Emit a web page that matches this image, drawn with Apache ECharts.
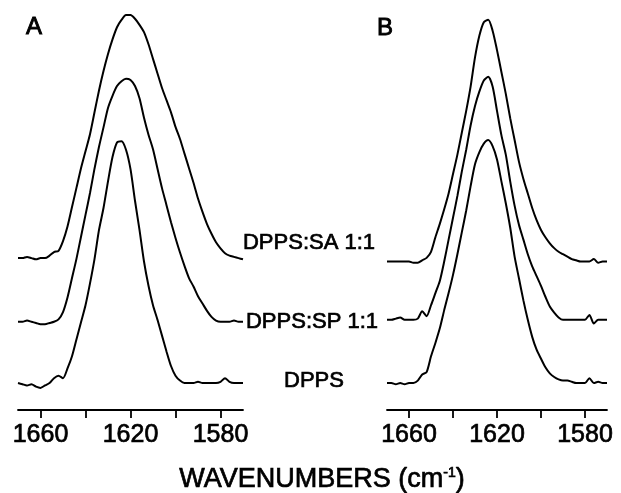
<!DOCTYPE html>
<html>
<head>
<meta charset="utf-8">
<script src="https://cdn.jsdelivr.net/npm/echarts@6/dist/echarts.min.js"></script>
<style>
html,body{margin:0;padding:0;background:#fff;}
#chart{width:621px;height:493px;}
</style>
</head>
<body>
<div id="chart"></div>
<script>
// Wavenumber grid (cm-1), shared by all spectra
const wavenumbers = [
  1670,1668,1666,1664,1662,1660,1658,1656,1654,1652,
  1650,1648,1646,1644,1642,1640,1638,1636,1634,1632,
  1630,1628,1626,1624,1622,1620,1618,1616,1614,1612,
  1610,1608,1606,1604,1602,1600,1598,1596,1594,1592,
  1590,1588,1586,1584,1582,1580,1578,1576,1574,1572,
  1570
];
// Panel A (normalized absorbance)
const aSA = [
  0, 0, 0.005, 0, -0.005, 0, 0, 0.01, 0.025, 0.03,
  0.07, 0.13, 0.21, 0.29, 0.37, 0.44, 0.51, 0.60, 0.69, 0.77,
  0.84, 0.90, 0.95, 0.98, 1.00, 1.00, 0.985, 0.96, 0.93, 0.88,
  0.82, 0.76, 0.70, 0.65, 0.60, 0.54, 0.49, 0.43, 0.37, 0.31,
  0.245, 0.19, 0.14, 0.10, 0.065, 0.04, 0.02, 0.01, 0.005, 0,
  -0.005
];
const aSP = [
  0, 0, 0.005, 0, -0.005, -0.01, -0.01, -0.005, 0, 0.01,
  0.04, 0.10, 0.18, 0.26, 0.35, 0.44, 0.53, 0.63, 0.72, 0.80,
  0.88, 0.93, 0.97, 0.99, 1.00, 0.995, 0.97, 0.92, 0.84, 0.77,
  0.71, 0.63, 0.55, 0.48, 0.41, 0.345, 0.285, 0.23, 0.18, 0.145,
  0.105, 0.075, 0.045, 0.02, 0.005, 0, 0, 0, 0.005, 0,
  0
];
const aDPPS = [
  0, -0.005, -0.01, -0.005, -0.015, -0.02, -0.01, 0, 0.02, 0.03,
  0.02, 0.06, 0.11, 0.18, 0.25, 0.32, 0.41, 0.51, 0.63, 0.72,
  0.83, 0.93, 0.99, 0.995, 0.96, 0.88, 0.75, 0.63, 0.50, 0.40,
  0.32, 0.26, 0.195, 0.13, 0.07, 0.03, 0.01, 0, 0, 0,
  0.005, 0, 0, 0, 0, 0.005, 0.02, 0.005, 0, 0,
  0
];
// Panel B (normalized absorbance)
const bSA = [
  0, 0, 0, 0, 0, 0, -0.005, -0.005, 0.005, 0.015,
  0.04, 0.10, 0.155, 0.215, 0.28, 0.36, 0.44, 0.53, 0.62, 0.72,
  0.84, 0.93, 0.985, 0.995, 0.95, 0.87, 0.78, 0.69, 0.59, 0.50,
  0.41, 0.34, 0.28, 0.22, 0.17, 0.13, 0.10, 0.075, 0.055, 0.04,
  0.03, 0.02, 0.01, 0.005, 0, 0, 0, 0.01, -0.005, 0,
  0
];
const bSP = [
  0, 0, 0.005, 0.01, 0, 0, 0, 0.005, 0.035, 0.015,
  0.06, 0.11, 0.16, 0.24, 0.33, 0.42, 0.51, 0.61, 0.70, 0.80,
  0.88, 0.94, 0.985, 1.00, 0.96, 0.86, 0.76, 0.68, 0.57, 0.47,
  0.39, 0.33, 0.27, 0.22, 0.18, 0.14, 0.095, 0.055, 0.03, 0.01,
  0, 0, 0, 0, 0, 0, 0.02, -0.015, 0, 0,
  0
];
const bDPPS = [
  0, 0, -0.005, 0, -0.005, 0, 0, 0.01, 0.035, 0.045,
  0.11, 0.165, 0.225, 0.30, 0.37, 0.445, 0.53, 0.62, 0.71, 0.81,
  0.90, 0.95, 0.985, 1.00, 0.975, 0.92, 0.83, 0.74, 0.64, 0.52,
  0.43, 0.34, 0.26, 0.19, 0.137, 0.10, 0.065, 0.04, 0.025, 0.015,
  0.01, 0.01, 0.005, 0, 0, 0, 0.02, 0, 0.005, 0,
  0
];
const tickValues = [1660, 1640, 1620, 1600, 1580];
const tickLabelValues = [1660, 1620, 1580];
const seriesNames = ['DPPS:SA 1:1', 'DPPS:SP 1:1', 'DPPS'];
const panelNames = ['A', 'B'];
const axisTitle = 'WAVENUMBERS (cm';

// display offsets used to stack the spectra
const stackA = [0.514, 0.252, 0];
const stackB = [0.50, 0.26, 0];

const FONT = '"Liberation Sans", Arial, Helvetica, sans-serif';

function pairs(arr, off) {
  return wavenumbers.map((w, i) => [w, arr[i] + off]);
}

function xAx(gridIndex) {
  return {
    type: 'value', gridIndex: gridIndex, min: 1570, max: 1670, inverse: true,
    axisLine: { show: true, onZero: false, lineStyle: { color: '#000', width: 1.8 } },
    axisTick: { show: true, length: 8, customValues: tickValues, lineStyle: { color: '#000', width: 1.8 } },
    axisLabel: {
      show: true, customValues: tickLabelValues, margin: 13, color: '#000', fontSize: 25, fontFamily: FONT,
      textBorderColor: '#000', textBorderWidth: 0.7,
      formatter: function (v) { return String(v); }
    },
    splitLine: { show: false }
  };
}
function yAx(gridIndex) {
  return { type: 'value', gridIndex: gridIndex, min: -0.111, max: 1.535, show: false, splitLine: { show: false } };
}
function line(name, data, xi, yi) {
  return {
    type: 'line', name: name, xAxisIndex: xi, yAxisIndex: yi, data: data,
    showSymbol: false, smooth: 0.25, clip: false, silent: true,
    lineStyle: { color: '#000', width: 2 }
  };
}

const aSets = [aSA, aSP, aDPPS];
const bSets = [bSA, bSP, bDPPS];
const series = [];
aSets.forEach((s, k) => series.push(line('A ' + seriesNames[k], pairs(s, stackA[k]), 0, 0)));
bSets.forEach((s, k) => series.push(line('B ' + seriesNames[k], pairs(s, stackB[k]), 1, 1)));

const labelStyle = { fill: '#000', fontSize: 22, fontFamily: FONT, align: 'center', verticalAlign: 'middle', stroke: '#000', lineWidth: 0.7 };
const panelStyle = { fill: '#000', fontSize: 24, fontFamily: FONT, align: 'center', verticalAlign: 'middle', stroke: '#000', lineWidth: 0.9 };

const option = {
  backgroundColor: '#fff',
  animation: false,
  grid: [
    { left: 18, width: 225, top: 10, bottom: 83 },
    { left: 387, width: 220, top: 10, bottom: 83 }
  ],
  xAxis: [xAx(0), xAx(1)],
  yAxis: [yAx(0), yAx(1)],
  series: series,
  graphic: [
    { type: 'text', x: 34, y: 27, style: Object.assign({ text: panelNames[0] }, panelStyle) },
    { type: 'text', x: 385, y: 28, style: Object.assign({ text: panelNames[1] }, panelStyle) },
    { type: 'text', x: 309, y: 243, style: Object.assign({ text: seriesNames[0] }, labelStyle) },
    { type: 'text', x: 312, y: 322, style: Object.assign({ text: seriesNames[1] }, labelStyle) },
    { type: 'text', x: 314, y: 381, style: Object.assign({ text: seriesNames[2] }, labelStyle) },
    { type: 'text', x: 322, y: 480, style: {
        text: axisTitle + '{sup|-1})', fill: '#000', fontSize: 27, fontFamily: FONT, align: 'center', verticalAlign: 'middle',
        stroke: '#000', lineWidth: 0.7,
        rich: { sup: { fontSize: 14, fontFamily: FONT, fill: '#000', verticalAlign: 'top', padding: [0, 0, 14, 0] } }
    } }
  ]
};
const chart = echarts.init(document.getElementById('chart'), null, { renderer: 'canvas' });
chart.setOption(option);
</script>
</body>
</html>
